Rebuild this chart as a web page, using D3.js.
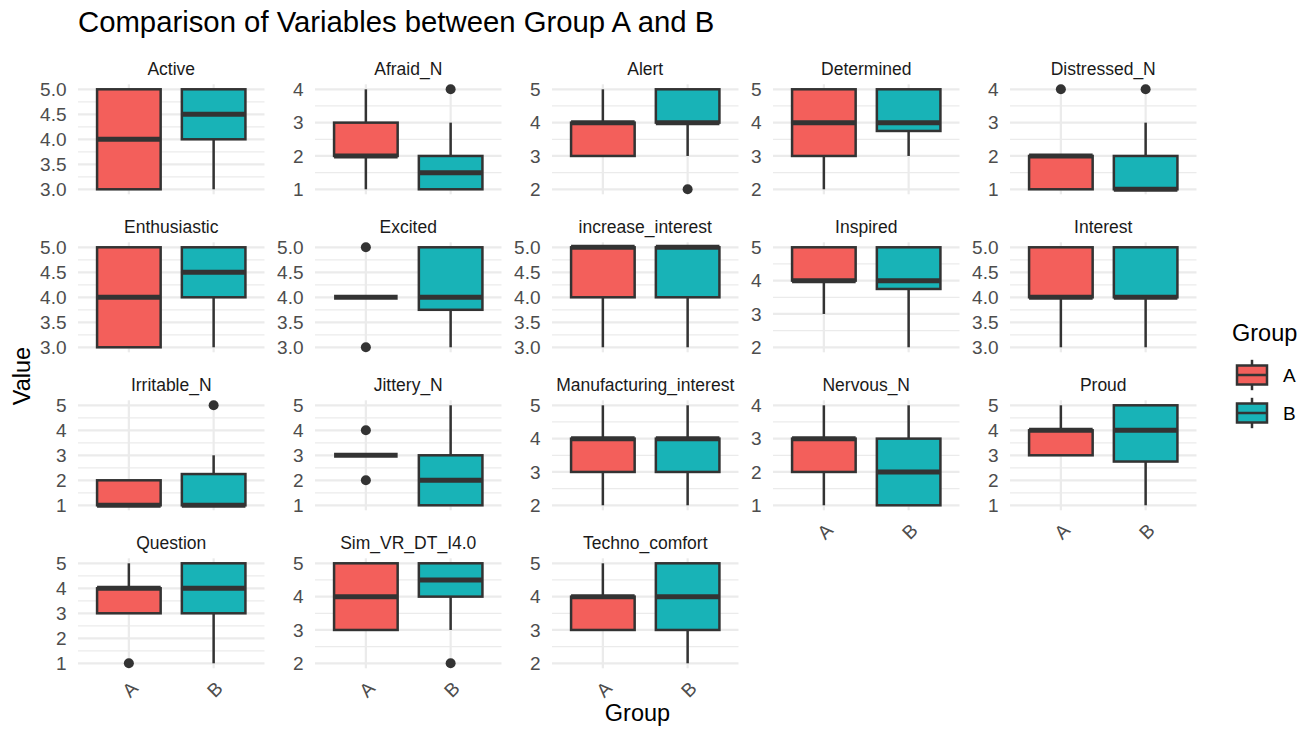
<!DOCTYPE html>
<html><head><meta charset="utf-8">
<script src="https://cdn.jsdelivr.net/npm/d3@7"></script>
<style>
body{margin:0;background:#fff}
text{font-family:"Liberation Sans",Arial,Helvetica,sans-serif}
</style>
</head><body>
<svg id="c" width="1314" height="731"></svg>
<script>
// ---------- DATA ----------
const variables = ["Active","Afraid_N","Alert","Determined","Distressed_N",
  "Enthusiastic","Excited","increase_interest","Inspired","Interest",
  "Irritable_N","Jittery_N","Manufacturing_interest","Nervous_N","Proud",
  "Question","Sim_VR_DT_I4.0","Techno_comfort"];
const groups = ["A","B"];
// [lower whisker, Q1, median, Q3, upper whisker]
const statsA = [
  [3,3,4,5,5],[1,2,2,3,4],[3,3,4,4,5],[2,3,4,5,5],[1,1,2,2,2],
  [3,3,4,5,5],[4,4,4,4,4],[3,4,5,5,5],[3,4,4,5,5],[3,4,4,5,5],
  [1,1,1,2,2],[3,3,3,3,3],[2,3,4,4,5],[1,2,3,3,4],[3,3,4,4,5],
  [3,3,4,4,5],[3,3,4,5,5],[3,3,4,4,5]];
const statsB = [
  [3,4,4.5,5,5],[1,1,1.5,2,3],[3,4,4,5,5],[3,3.75,4,5,5],[1,1,1,2,3],
  [3,4,4.5,5,5],[3,3.75,4,5,5],[3,4,5,5,5],[2,3.75,4,5,5],[3,4,4,5,5],
  [1,1,1,2.25,3],[1,1,2,3,5],[2,3,4,4,5],[1,1,2,3,4],[1,2.75,4,5,5],
  [1,3,4,5,5],[3,4,4.5,5,5],[2,3,4,5,5]];
const outliersA = [[],[],[],[],[4],[],[3,5],[],[],[],[],[2,4],[],[],[],[1],[],[]];
const outliersB = [[],[4],[2],[],[4],[],[],[],[],[],[5],[],[],[],[],[],[2],[]];
const yTicks = [
  [3,3.5,4,4.5,5],[1,2,3,4],[2,3,4,5],[2,3,4,5],[1,2,3,4],
  [3,3.5,4,4.5,5],[3,3.5,4,4.5,5],[3,3.5,4,4.5,5],[2,3,4,5],[3,3.5,4,4.5,5],
  [1,2,3,4,5],[1,2,3,4,5],[2,3,4,5],[1,2,3,4],[1,2,3,4,5],
  [1,2,3,4,5],[2,3,4,5],[2,3,4,5]];
const titleText = "Comparison of Variables between Group A and B";

// ---------- LAYOUT / STYLE ----------
const colors = {A:"#F35F5B", B:"#18B3B7"};
const colLeft = [78, 315, 552, 773, 1010];
const rowTop = [84.3, 242.3, 400.3, 558.3];
const panelW = 186.5, panelH = 110;
const nCols = 5;
const ink = "#333333", grid = "#EBEBEB";

const svg = d3.select("#c");
svg.append("rect").attr("width",1314).attr("height",731).attr("fill","#fff");

svg.append("text").attr("x",78).attr("y",32).attr("font-size",29.3)
  .attr("fill","#000").text(titleText);

variables.forEach((v,i)=>{
  const r = Math.floor(i/nCols), c = i % nCols;
  const x0 = colLeft[c], y0 = rowTop[r];
  const g = svg.append("g").attr("transform",`translate(${x0},${y0})`);
  const allVals = statsA[i].concat(statsB[i], outliersA[i], outliersB[i]);
  const ext = d3.extent(allVals);
  const pad = (ext[1]-ext[0])*0.05;
  const y = d3.scaleLinear().domain([ext[0]-pad, ext[1]+pad]).range([panelH,0]);
  const x = d3.scalePoint().domain(groups).range([0,panelW]).padding(0.6);
  const bw = x.step()*0.75;
  const ticks = yTicks[i];
  const minor = d3.pairs(ticks).map(p=>(p[0]+p[1])/2);
  const isFrac = ticks.some(t=>Math.round(t)!==t);
  const fmt = isFrac ? d3.format(".1f") : d3.format("d");

  // grid
  g.selectAll(".mn").data(minor).join("line")
    .attr("x1",0).attr("x2",panelW).attr("y1",d=>y(d)).attr("y2",d=>y(d))
    .attr("stroke",grid).attr("stroke-width",1.2);
  g.selectAll(".mj").data(ticks).join("line")
    .attr("x1",0).attr("x2",panelW).attr("y1",d=>y(d)).attr("y2",d=>y(d))
    .attr("stroke",grid).attr("stroke-width",2.2);
  g.selectAll(".vx").data(groups).join("line")
    .attr("x1",d=>x(d)).attr("x2",d=>x(d)).attr("y1",0).attr("y2",panelH)
    .attr("stroke",grid).attr("stroke-width",2.2);

  // y axis labels
  g.selectAll(".yl").data(ticks).join("text")
    .attr("x",-11.5).attr("y",d=>y(d)).attr("dy","0.36em")
    .attr("text-anchor","end").attr("font-size",19).attr("fill","#4D4D4D")
    .text(d=>fmt(d));

  // strip
  svg.append("text").attr("x",x0+panelW/2).attr("y",y0-16).attr("dy","0.36em")
    .attr("text-anchor","middle").attr("font-size",17.5).attr("fill","#1A1A1A").text(v);

  // boxes
  const boxes = [{grp:"A",s:statsA[i],o:outliersA[i]},{grp:"B",s:statsB[i],o:outliersB[i]}];
  boxes.forEach(b=>{
    const cx = x(b.grp), s = b.s;
    if (s[4] > s[3]) g.append("line").attr("x1",cx).attr("x2",cx).attr("y1",y(s[3])).attr("y2",y(s[4]))
      .attr("stroke",ink).attr("stroke-width",2.5);
    if (s[1] > s[0]) g.append("line").attr("x1",cx).attr("x2",cx).attr("y1",y(s[1])).attr("y2",y(s[0]))
      .attr("stroke",ink).attr("stroke-width",2.5);
    g.append("rect").attr("x",cx-bw/2).attr("width",bw)
      .attr("y",y(s[3])).attr("height",Math.max(0,y(s[1])-y(s[3])))
      .attr("fill",colors[b.grp]).attr("stroke",ink).attr("stroke-width",2.5);
    g.append("line").attr("x1",cx-bw/2).attr("x2",cx+bw/2).attr("y1",y(s[2])).attr("y2",y(s[2]))
      .attr("stroke",ink).attr("stroke-width",5);
    g.selectAll(null).data(b.o).join("circle")
      .attr("cx",cx).attr("cy",d=>y(d)).attr("r",5).attr("fill",ink);
  });

  // bottom x labels
  if (i + nCols >= variables.length) {
    g.selectAll(".xl").data(groups).join("text")
      .attr("transform",d=>`translate(${x(d)+1},${panelH+21}) rotate(-45)`)
      .attr("text-anchor","middle").attr("dy","0.36em")
      .attr("font-size",19).attr("fill","#4D4D4D").text(d=>d);
  }
});

// axis titles
svg.append("text").attr("x",637.5).attr("y",721).attr("text-anchor","middle")
  .attr("font-size",23.5).attr("fill","#000").text("Group");
svg.append("text").attr("transform","translate(30,376) rotate(-90)").attr("text-anchor","middle")
  .attr("font-size",23.5).attr("fill","#000").text("Value");

// legend
svg.append("text").attr("x",1232).attr("y",341).attr("font-size",23.5).attr("fill","#000").text("Group");
const kw = 40, kh = 38, kx = 1232, ky = 356;
groups.forEach((grp,j)=>{
  const top = ky + j*kh;
  const lg = svg.append("g").attr("transform",`translate(${kx},${top})`);
  lg.append("line").attr("x1",kw/2).attr("x2",kw/2).attr("y1",kh*0.1).attr("y2",kh*0.9)
    .attr("stroke",ink).attr("stroke-width",2.5);
  lg.append("rect").attr("x",kw*0.125).attr("width",kw*0.75).attr("y",kh*0.25).attr("height",kh*0.5)
    .attr("fill",colors[grp]).attr("stroke",ink).attr("stroke-width",2.5);
  lg.append("line").attr("x1",kw*0.125).attr("x2",kw*0.875).attr("y1",kh*0.5).attr("y2",kh*0.5)
    .attr("stroke",ink).attr("stroke-width",2.5);
  svg.append("text").attr("x",1283).attr("y",top+kh/2).attr("dy","0.36em")
    .attr("font-size",19).attr("fill","#000").text(grp);
});
</script>
</body></html>
